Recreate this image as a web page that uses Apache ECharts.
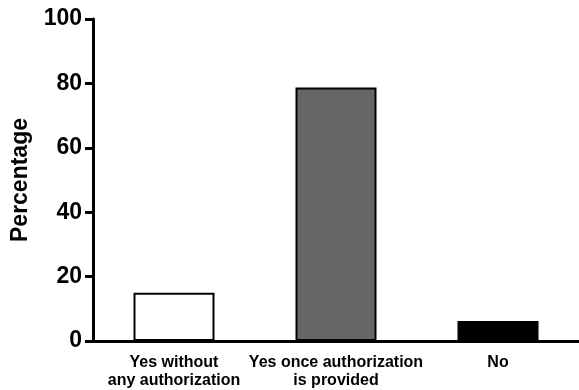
<!DOCTYPE html>
<html><head><meta charset="utf-8">
<script src="https://cdn.jsdelivr.net/npm/echarts@6/dist/echarts.min.js"></script>
<style>html,body{margin:0;padding:0;background:#fff}#c{width:579px;height:390px}</style>
</head><body><div id="c"></div>
<script>
const categories = ["Yes without\nany authorization", "Yes once authorization\nis provided", "No"];
const values = [15, 78.7, 6.2];
const barColors = ["#ffffff", "#666666", "#000000"];
const yTicks = [0, 20, 40, 60, 80, 100];

const chart = echarts.init(document.getElementById('c'));
chart.setOption({
  animation: false,
  grid: {left: 93, right: 0, top: 19, bottom: 48, containLabel: false},
  xAxis: {
    type: 'category', data: categories,
    axisLine: {lineStyle: {color: '#000', width: 3}},
    axisTick: {alignWithLabel: true, length: 8, lineStyle: {color: '#000', width: 3}},
    axisLabel: {color: '#000', fontFamily: 'Liberation Sans, Arial', fontWeight: 'bold', fontSize: 16, lineHeight: 18, margin: 13, interval: 0}
  },
  yAxis: {
    type: 'value', min: yTicks[0], max: yTicks[yTicks.length-1], interval: 20,
    name: 'Percentage', nameLocation: 'middle', nameGap: 61, nameRotate: 90,
    nameTextStyle: {color: '#000', fontFamily: 'Liberation Sans, Arial', fontWeight: 'bold', fontSize: 23},
    axisLine: {show: true, lineStyle: {color: '#000', width: 3}},
    axisTick: {show: true, length: 8, lineStyle: {color: '#000', width: 3}},
    axisLabel: {color: '#000', fontFamily: 'Liberation Sans, Arial', fontWeight: 'bold', fontSize: 23, margin: 11},
    splitLine: {show: false}
  },
  series: [{
    type: 'bar', barWidth: '50%',
    data: values.map((v, i) => ({value: v, itemStyle: {color: barColors[i]}})),
    itemStyle: {borderColor: '#000', borderWidth: 2}
  }]
});
</script></body></html>
